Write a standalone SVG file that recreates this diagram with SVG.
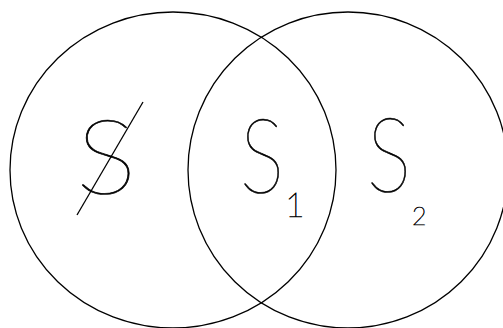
<svg xmlns="http://www.w3.org/2000/svg" width="503" height="328" viewBox="0 0 503 328">
<style>
.set{fill:none;stroke:#000;stroke-width:1.3}
.lbl{font-family:"Lato","Inter","Liberation Sans",sans-serif;font-weight:100;fill:#000;stroke:#000;stroke-width:0.7}
.big{font-size:104px}
</style>
<rect width="503" height="328" fill="#fff"/>
<g id="setA"><ellipse class="set" cx="173" cy="170" rx="163" ry="158"/></g>
<g id="setB"><ellipse class="set" cx="348" cy="170" rx="160" ry="158"/></g>
<g id="labelEmpty">
<text class="lbl big" transform="translate(76,194) scale(1.1,1)">S</text>
<line x1="143" y1="102" x2="77" y2="215" stroke="#000" stroke-width="1.3"/>
</g>
<g id="labelS1">
<text class="lbl big" transform="translate(240,193) scale(0.8,1)">S</text>
<text class="lbl" x="285" y="217" font-size="34">1</text>
</g>
<g id="labelS2">
<text class="lbl big" transform="translate(367,192) scale(0.8,1)">S</text>
<text class="lbl" x="412" y="225" font-size="25">2</text>
</g>
</svg>
